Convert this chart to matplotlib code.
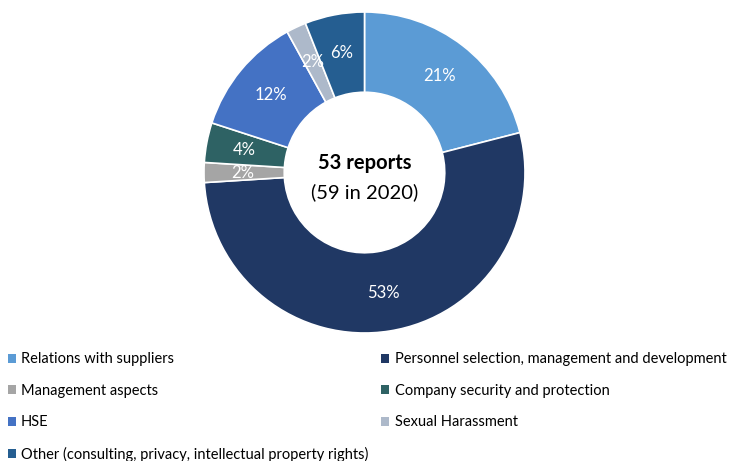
import numpy as np
import matplotlib.pyplot as plt
from matplotlib.patches import Patch

plt.rcParams['font.family'] = ['Lato', 'DejaVu Sans']

categories = [
    "Relations with suppliers",
    "Personnel selection, management and development",
    "Management aspects",
    "Company security and protection",
    "HSE",
    "Sexual Harassment",
    "Other (consulting, privacy, intellectual property rights)",
]
shares = [21, 53, 2, 4, 12, 2, 6]
colors = ["#5B9BD5", "#203864", "#A5A5A5", "#2E6264", "#4472C4", "#ADB9CA", "#255E91"]

W, H = 733, 461
fig = plt.figure(figsize=(W / 100, H / 100), dpi=100)

# donut centre and radius in pixels
cx, cy, R = 364.5, 172.5, 160.5
ax = fig.add_axes([(cx - R) / W, (H - cy - R) / H, 2 * R / W, 2 * R / H])

wedges, texts = ax.pie(
    shares, colors=colors, startangle=90, counterclock=False,
    wedgeprops=dict(width=0.5, edgecolor="white", linewidth=1.2),
)
for w, v in zip(wedges, shares):
    ang = np.deg2rad((w.theta1 + w.theta2) / 2)
    ax.text(0.76 * np.cos(ang), 0.76 * np.sin(ang), f"{v}%", color="white",
            ha="center", va="center", fontsize=12)
ax.set_xlim(-1, 1)
ax.set_ylim(-1, 1)

ax.text(0, 0.06, "53 reports", ha="center", va="center", fontsize=14.5, fontweight="bold")
ax.text(0, -0.12, "(59 in 2020)", ha="center", va="center", fontsize=14.5)

handles = [Patch(facecolor=c, edgecolor="none") for c in colors]
order = [0, 2, 4, 6, 1, 3, 5]
fig.legend([handles[i] for i in order], [categories[i] for i in order],
           ncol=2, loc="upper left", bbox_to_anchor=(0.5 / W, 1 - 345 / H),
           frameon=False, fontsize=10.5, handlelength=0.55, handleheight=0.55,
           handletextpad=0.35, labelspacing=1.2, columnspacing=0.9, borderpad=0)

fig.savefig("out.png", dpi=100)
